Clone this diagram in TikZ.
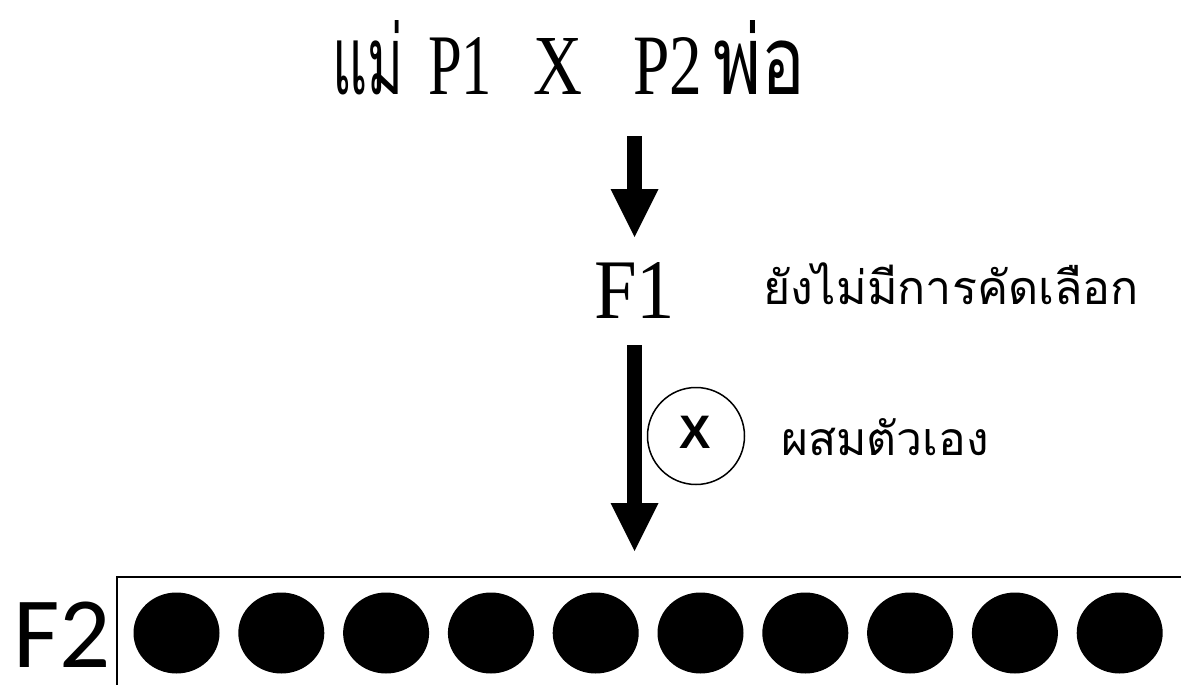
\documentclass[tikz,border=0pt]{standalone}
\usepackage{fontspec}
\usepackage{graphicx}
\usetikzlibrary{arrows.meta}
\setmainfont{Liberation Serif}
\newfontfamily\thaifont[Script=Thai]{Loma}
\newfontfamily\labelsans{Liberation Sans}
\newfontfamily\gensans{Carlito}

\tikzset{
  words/.style={inner sep=0pt, outer sep=0pt, anchor=base west},
  bigarrow/.style={line width=15pt, -{Triangle[width=48pt,length=48pt,line width=0pt]}},
  seed/.style={fill=black},
}

\begin{document}
\begin{tikzpicture}[x=1pt,y=-1pt]
  \useasboundingbox (0,0) rectangle (1181,685);
  \clip (0,0) rectangle (1181,685);

  % parents
  \node[words] (mother) at (332,94) {\resizebox{71pt}{74pt}{\thaifont\fontsize{90}{90}\selectfont แม่}};
  \node[words] (pone)   at (428,94) {\resizebox{64pt}{57pt}{\fontsize{85}{85}\selectfont P1}};
  \node[words] (cross)  at (533,94) {\resizebox{49pt}{56pt}{\fontsize{85}{85}\selectfont X}};
  \node[words] (ptwo)   at (633,94) {\resizebox{69pt}{57pt}{\fontsize{85}{85}\selectfont P2}};
  \node[words] (father) at (713,94) {\resizebox{92pt}{74pt}{\thaifont\fontsize{90}{90}\selectfont พ่อ}};

  % first generation
  \node[words] (fone) at (594,318) {\resizebox{81pt}{56pt}{\fontsize{85}{85}\selectfont F1}};
  \node[words] (nosel) at (763,304) {\resizebox{376pt}{!}{\thaifont\fontsize{60}{60}\selectfont ยังไม่มีการคัดเลือก}};

  % selfing
  \node[circle, draw, line width=1.5pt, minimum size=97pt, inner sep=0pt] (selfc) at (696,436) {};
  \node[inner sep=0pt, anchor=base] (selfx) at (695.5,448) {\labelsans\bfseries\fontsize{47}{47}\selectfont X};
  \node[words] (selfing) at (781,455) {\resizebox{208pt}{!}{\thaifont\fontsize{60}{60}\selectfont ผสมตัวเอง}};

  % arrows between generations
  \coordinate (aonetop) at (634.5,136);
  \coordinate (aonetip) at (634.5,237);
  \coordinate (atwotop) at (634.5,345);
  \coordinate (atwotip) at (634.5,551);
  \draw[bigarrow] (aonetop) -- (aonetip);
  \draw[bigarrow] (atwotop) -- (atwotip);

  % second generation
  \node[words] (ftwo) at (13,667) {\gensans\fontsize{101}{101}\selectfont F2};
  \draw[line width=2pt] (117,700) -- (117,577) -- (1200,577);
  \foreach \i in {0,...,9} {
    \fill[seed] (176.5+104.8*\i,633) ellipse [x radius=43, y radius=40.5];
  }
\end{tikzpicture}
\end{document}
